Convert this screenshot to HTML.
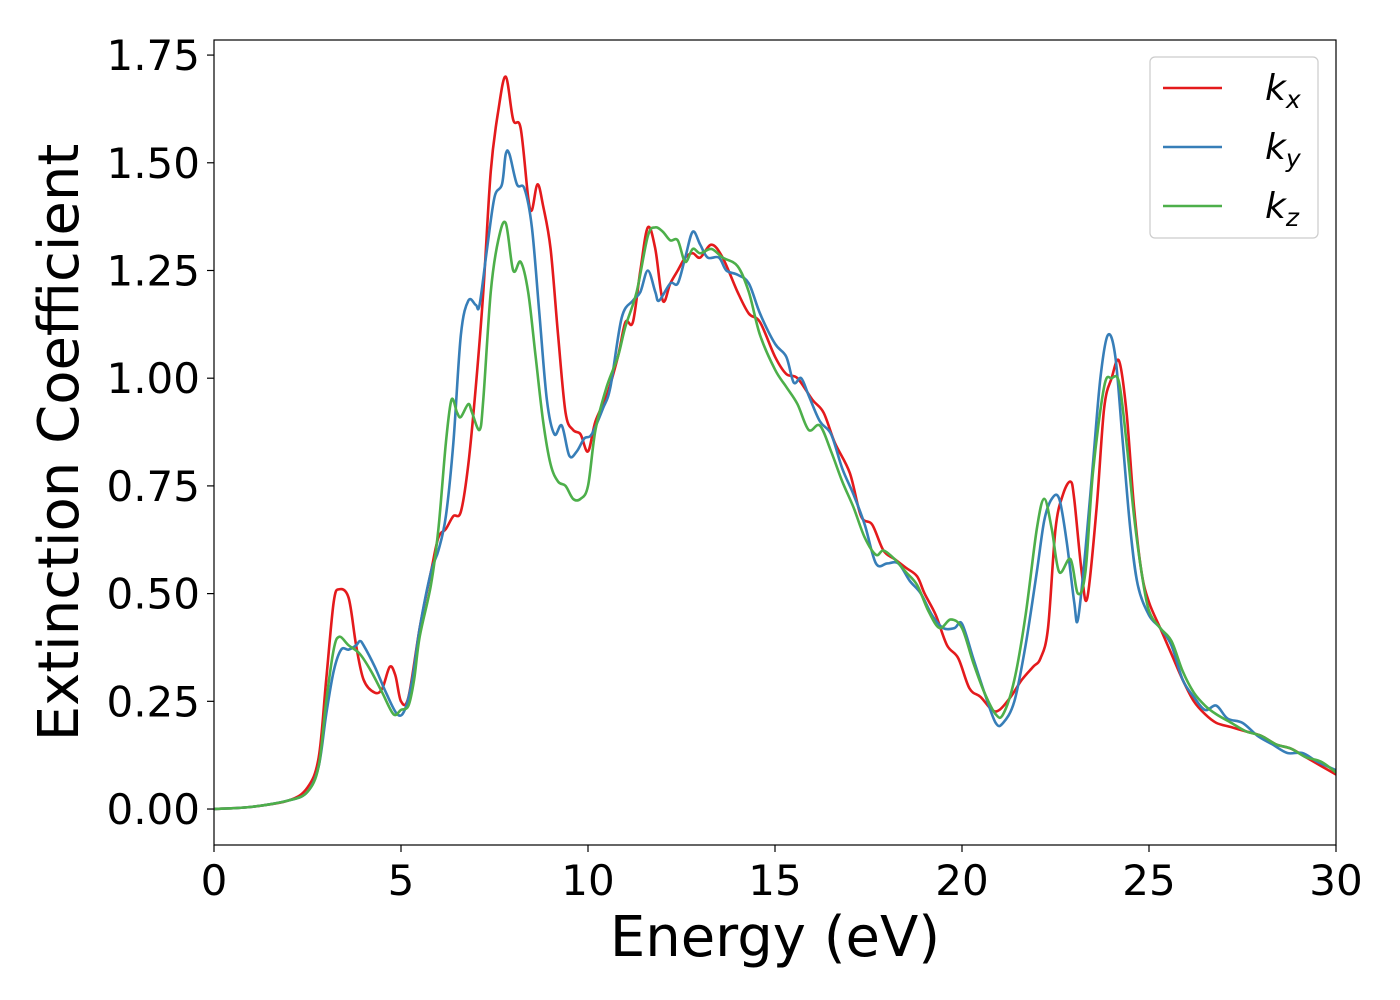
<!DOCTYPE html>
<html><head><meta charset="utf-8"><style>
html,body{margin:0;padding:0;background:#fff;}
svg{display:block;font-family:"DejaVu Sans","Liberation Sans",sans-serif;}
</style></head><body>
<svg id="chart" width="1400" height="1000" viewBox="0 0 1400 1000" xmlns="http://www.w3.org/2000/svg">
<g id="plot"></g>
<g id="axes"></g>
<g id="legend"></g>
</svg>
<script>
const xTicks=[0,5,10,15,20,25,30];
const yTicks=[0,0.25,0.5,0.75,1.0,1.25,1.5,1.75];
const yTickLabels=["0.00","0.25","0.50","0.75","1.00","1.25","1.50","1.75"];
const seriesNames=["x","y","z"];
const kxE=[0,1,2,2.5,2.8,3.0,3.2,3.35,3.6,3.8,4.0,4.3,4.5,4.7,4.85,5.0,5.2,5.5,5.8,6.0,6.2,6.4,6.6,6.8,7.0,7.2,7.4,7.6,7.8,8.0,8.2,8.4,8.5,8.65,8.8,9.0,9.2,9.4,9.6,9.8,10.0,10.2,10.5,10.8,11.0,11.2,11.4,11.6,11.8,12.0,12.2,12.4,12.6,12.8,13.0,13.3,13.6,14.0,14.3,14.6,15.0,15.3,15.6,16.0,16.3,16.6,17.0,17.3,17.6,17.9,18.2,18.5,18.8,19.0,19.3,19.6,19.9,20.2,20.5,20.8,21.0,21.3,21.6,21.9,22.1,22.3,22.5,22.7,22.9,23.0,23.2,23.35,23.6,23.8,24.0,24.2,24.4,24.6,24.8,25.0,25.3,25.6,25.9,26.2,26.5,26.8,27.2,27.6,28,28.4,28.8,29.2,29.6,30];
const kxV=[0,0.005,0.02,0.05,0.12,0.3,0.48,0.51,0.49,0.38,0.3,0.27,0.28,0.33,0.31,0.25,0.26,0.42,0.55,0.63,0.65,0.68,0.69,0.8,0.98,1.2,1.48,1.62,1.70,1.6,1.58,1.42,1.39,1.45,1.4,1.3,1.1,0.92,0.88,0.87,0.83,0.9,0.96,1.05,1.13,1.13,1.25,1.35,1.3,1.18,1.22,1.25,1.28,1.29,1.28,1.31,1.28,1.2,1.15,1.13,1.05,1.01,1.0,0.95,0.92,0.85,0.78,0.68,0.66,0.6,0.58,0.56,0.54,0.5,0.45,0.38,0.35,0.28,0.26,0.23,0.23,0.26,0.3,0.33,0.35,0.42,0.65,0.73,0.76,0.72,0.55,0.49,0.7,0.93,1.0,1.04,0.92,0.7,0.55,0.48,0.42,0.36,0.3,0.25,0.22,0.2,0.19,0.18,0.17,0.15,0.14,0.12,0.1,0.08];
const kyE=[0,1,2,2.5,2.8,3.0,3.2,3.4,3.6,3.8,3.9,4.0,4.3,4.6,4.9,5.1,5.3,5.5,5.8,6.0,6.2,6.4,6.6,6.8,7.0,7.1,7.3,7.5,7.7,7.8,7.9,8.1,8.3,8.5,8.7,8.9,9.1,9.3,9.5,9.7,9.9,10.1,10.4,10.6,10.9,11.2,11.4,11.6,11.8,11.9,12.2,12.4,12.6,12.8,13.0,13.2,13.5,13.7,14.0,14.3,14.6,15.0,15.3,15.5,15.7,15.9,16.2,16.5,16.8,17.1,17.4,17.7,18.0,18.3,18.6,18.9,19.2,19.5,19.8,20.0,20.3,20.6,20.9,21.1,21.4,21.7,22.0,22.2,22.4,22.6,22.8,23.0,23.1,23.3,23.5,23.7,23.9,24.1,24.3,24.5,24.7,25.0,25.3,25.6,25.9,26.2,26.5,26.8,27.1,27.5,27.9,28.3,28.7,29.1,29.5,30];
const kyV=[0,0.005,0.02,0.04,0.1,0.22,0.32,0.37,0.37,0.38,0.39,0.38,0.33,0.27,0.22,0.23,0.3,0.42,0.55,0.6,0.68,0.85,1.1,1.18,1.17,1.17,1.3,1.42,1.45,1.52,1.52,1.45,1.44,1.35,1.15,0.95,0.87,0.89,0.82,0.83,0.86,0.87,0.93,0.98,1.14,1.18,1.2,1.25,1.2,1.18,1.22,1.22,1.28,1.34,1.31,1.28,1.28,1.25,1.24,1.22,1.15,1.08,1.05,0.99,1.0,0.96,0.9,0.87,0.79,0.73,0.66,0.57,0.57,0.57,0.53,0.5,0.45,0.42,0.42,0.43,0.35,0.27,0.2,0.2,0.25,0.38,0.55,0.67,0.72,0.72,0.62,0.48,0.44,0.6,0.8,1.0,1.1,1.05,0.85,0.65,0.52,0.45,0.42,0.38,0.3,0.26,0.23,0.24,0.21,0.2,0.17,0.15,0.13,0.13,0.11,0.09];
const kzE=[0,1,2,2.5,2.8,3.0,3.2,3.35,3.6,3.9,4.2,4.5,4.8,5.0,5.2,5.35,5.5,5.8,6.0,6.2,6.35,6.5,6.6,6.8,6.9,7.1,7.2,7.4,7.6,7.8,8.0,8.2,8.4,8.6,8.8,9.0,9.2,9.4,9.6,9.8,10.0,10.2,10.5,10.8,11.0,11.3,11.6,11.8,12.0,12.2,12.4,12.6,12.8,13.0,13.3,13.6,14.0,14.3,14.6,15.0,15.3,15.6,15.9,16.2,16.5,16.8,17.1,17.4,17.7,17.9,18.2,18.5,18.8,19.1,19.4,19.7,20.0,20.3,20.6,20.9,21.1,21.4,21.7,22.0,22.2,22.4,22.6,22.9,23.1,23.3,23.5,23.8,24.0,24.2,24.4,24.6,24.8,25.0,25.3,25.6,25.9,26.2,26.5,26.8,27.2,27.6,28.0,28.4,28.8,29.2,29.6,30];
const kzV=[0,0.005,0.02,0.04,0.1,0.25,0.37,0.4,0.38,0.36,0.32,0.27,0.22,0.23,0.24,0.3,0.4,0.52,0.65,0.85,0.95,0.92,0.91,0.94,0.92,0.88,0.95,1.2,1.32,1.36,1.25,1.27,1.2,1.05,0.9,0.8,0.76,0.75,0.72,0.72,0.75,0.88,0.98,1.05,1.12,1.2,1.33,1.35,1.34,1.32,1.32,1.27,1.3,1.29,1.3,1.28,1.26,1.2,1.1,1.02,0.98,0.94,0.88,0.89,0.83,0.76,0.7,0.63,0.59,0.6,0.58,0.55,0.52,0.46,0.42,0.44,0.42,0.34,0.27,0.22,0.22,0.3,0.45,0.65,0.72,0.65,0.55,0.58,0.5,0.55,0.78,0.98,1.0,0.99,0.85,0.68,0.55,0.46,0.42,0.39,0.32,0.27,0.24,0.22,0.2,0.18,0.17,0.15,0.14,0.12,0.11,0.085];

const NS="http://www.w3.org/2000/svg";
const L=214,R=1336,T=40,B=845;
const xMin=0,xMax=30,yMin=-0.0835,yMax=1.785;
const xs=v=>L+(v-xMin)/(xMax-xMin)*(R-L);
const ys=v=>B-(v-yMin)/(yMax-yMin)*(B-T);
function mk(tag,attrs,parent){const e=document.createElementNS(NS,tag);for(const k in attrs)e.setAttribute(k,attrs[k]);parent.appendChild(e);return e;}
const plot=document.getElementById('plot'),axes=document.getElementById('axes'),legend=document.getElementById('legend');
const cp=mk('clipPath',{id:'clip'},document.getElementById('chart'));
mk('rect',{x:L,y:T,width:R-L,height:B-T},cp);
function pathFor(E,V){
  const p=E.map((e,i)=>[xs(e),ys(V[i])]);
  let d=`M${p[0][0]},${p[0][1]}`;
  for(let i=0;i<p.length-1;i++){
    const p0=p[Math.max(0,i-1)],p1=p[i],p2=p[i+1],p3=p[Math.min(p.length-1,i+2)];
    const c1=[p1[0]+(p2[0]-p0[0])/6,p1[1]+(p2[1]-p0[1])/6];
    const c2=[p2[0]-(p3[0]-p1[0])/6,p2[1]-(p3[1]-p1[1])/6];
    d+=` C${c1[0]},${c1[1]} ${c2[0]},${c2[1]} ${p2[0]},${p2[1]}`;
  }
  return d;
}
const series=[[kxE,kxV,'#e41a1c'],[kyE,kyV,'#377eb8'],[kzE,kzV,'#4daf4a']];
series.forEach((s,i)=>{
  const el=mk('path',{d:pathFor(s[0],s[1]),fill:'none',stroke:s[2],'stroke-width':2.6,'clip-path':'url(#clip)'},plot);
  
  
});
const frame=mk('rect',{x:L,y:T,width:R-L,height:B-T,fill:'none',stroke:'#000','stroke-width':1.2},axes);


xTicks.forEach(v=>{
  const x=xs(v);
  const tk=mk('line',{x1:x,x2:x,y1:B,y2:B+7,stroke:'#000','stroke-width':1.2},axes);
  
  
  const t=mk('text',{x:x,y:B+50,'text-anchor':'middle','font-size':42},axes);
  t.textContent=String(v);
  
  
});
yTicks.forEach((v,i)=>{
  const y=ys(v);
  const tk=mk('line',{x1:L-7,x2:L,y1:y,y2:y,stroke:'#000','stroke-width':1.2},axes);
  
  
  const t=mk('text',{x:L-14,y:y+15,'text-anchor':'end','font-size':42},axes);
  t.textContent=yTickLabels[i];
  
  
});
const xt=mk('text',{x:(L+R)/2,y:956,'text-anchor':'middle','font-size':56},axes);
xt.textContent='Energy (eV)';


const yt=mk('text',{x:0,y:0,'text-anchor':'middle','font-size':56,transform:`translate(78,${(T+B)/2}) rotate(-90)`},axes);
yt.textContent='Extinction Coefficient';


const lb=mk('rect',{x:1150,y:57,width:168,height:181,rx:5,fill:'#fff',stroke:'#ccc','stroke-width':1.2},legend);


series.forEach((s,i)=>{
  const y=88+i*59;
  const ln=mk('line',{x1:1163,x2:1222,y1:y,y2:y,stroke:s[2],'stroke-width':2.6},legend);
  
  
  const t=mk('text',{x:1265,y:y+12,'font-size':36,'font-style':'italic'},legend);
  
  
  t.appendChild(document.createTextNode('k'));
  const sub=mk('tspan',{'font-size':25,dy:8},t);
  sub.textContent=seriesNames[i];
});
</script>
</body></html>
